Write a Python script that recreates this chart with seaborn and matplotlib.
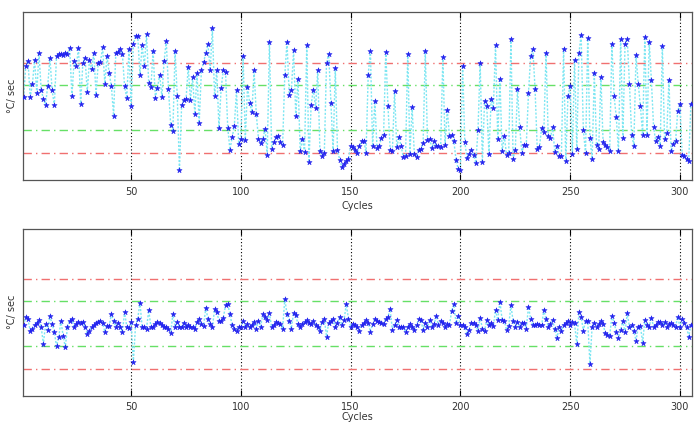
import numpy as np
import pandas as pd
import matplotlib
matplotlib.use("Agg")
import matplotlib.pyplot as plt
import seaborn as sns

# ---- data ----
top_values = [
    0.71, 2.78, 3.11, 0.73, 1.56, 3.22, 1.0, 3.67, 1.22, 0.6,
    0.22, 1.49, 3.33, 1.16, 0.18, 3.44, 3.56, 3.56, 3.49, 3.67,
    3.6, 4.0, 0.82, 3.11, 2.78, 4.0, 0.29, 3.0, 3.33, 1.07,
    3.18, 2.56, 3.67, 0.89, 3.0, 3.04, 4.04, 1.62, 3.44, 2.29,
    1.44, -0.51, 3.67, 3.71, 3.93, 3.6, 1.44, 0.64, 3.89, 0.11,
    4.22, 4.78, 4.78, 2.22, 4.16, 2.82, 4.89, 1.67, 1.4, 3.78,
    0.67, 1.33, 2.22, 0.73, 3.11, 4.44, 1.27, -1.11, -1.56, 3.78,
    0.82, -4.16, 0.22, 0.51, 0.56, 2.73, 0.51, 2.04, -0.4, 2.29,
    -1.0, 2.49, 3.04, 3.67, 4.22, 2.51, 5.29, 0.82, 2.49, -1.33,
    1.33, 2.49, 2.38, -1.33, -2.78, -1.96, -1.18, 1.16, -2.4, -2.07,
    3.44, -2.11, 1.4, 0.33, -0.29, 2.51, -0.4, -2.07, -2.33, -2.07,
    -1.38, -3.11, 4.4, -2.71, -2.27, -1.96, -1.89, -2.27, -2.44, 2.18,
    4.4, 0.89, 1.18, 3.84, -0.51, 1.93, -2.89, -2.07, -2.93, 4.16,
    -3.6, 0.22, 1.22, 0.0, 2.49, -2.89, -3.18, -3.0, 3.0, 3.6,
    0.33, -2.89, 2.64, -2.82, -3.44, -3.93, -3.71, -3.56, -3.38, -2.56,
    -2.62, -2.78, -3.0, -2.51, -2.22, -2.18, -3.0, 2.22, 3.78, -2.56,
    0.44, -2.67, -2.56, -2.0, -1.78, 3.71, 0.11, -2.78, -2.89, 1.11,
    -2.62, -1.96, -2.56, -3.29, -3.22, 3.6, -3.04, 0.04, -3.07, -3.29,
    -2.78, -2.73, -2.33, 3.78, -2.16, -2.07, -2.67, -2.22, -2.56, -2.56,
    -2.62, 3.38, -2.44, -0.11, -1.89, -1.78, -2.22, -3.44, -4.07, -4.16,
    2.82, -2.29, -3.33, -3.04, -2.78, -3.11, -3.67, -1.49, 3.0, -3.6,
    0.44, 0.11, -3.04, 0.56, 0.0, 4.18, -2.07, 1.93, -2.89, -1.89,
    -3.11, -3.0, 4.6, -3.4, -2.78, 1.27, -1.29, -3.0, -2.44, -2.49,
    0.96, 3.44, 3.93, 1.27, -2.73, -2.62, -1.33, -1.62, 3.67, -1.89,
    -2.0, -1.27, -2.96, -2.56, -3.22, -3.18, 3.93, -3.56, 0.82, 1.44,
    -3.04, 3.22, -2.73, 3.67, 4.84, -1.49, -3.0, 4.62, -2.0, -3.4,
    2.29, -2.44, -2.73, 2.04, -2.29, -2.44, -2.6, -2.89, 4.27, 0.78,
    -0.6, -2.89, 4.6, -2.0, 4.27, 4.6, 1.62, -1.78, -2.51, 3.49,
    1.62, 0.11, -1.78, 4.71, -1.78, 4.4, 1.84, -1.29, -2.22, -1.96,
    -2.51, 4.11, -2.07, -1.67, 1.84, -2.89, -2.4, -2.22, -0.22, 0.29,
    -3.11, -3.22, -3.38, -3.56, 0.27,
]

bottom_values = [
    -0.09, 0.46, 0.31, -0.46, -0.35, -0.09, 0.09, 0.24, -0.18, -1.34,
    -0.02, -0.4, 0.53, -0.02, -0.53, -1.49, -0.9, 0.2, -0.79, -1.56,
    -0.18, 0.2, 0.31, -0.18, -0.02, 0.13, 0.09, 0.13, -0.18, -0.64,
    -0.46, -0.24, -0.09, 0.04, 0.13, 0.2, 0.09, -0.53, -0.13, -0.13,
    0.66, 0.2, -0.18, 0.09, -0.18, -0.53, 0.79, -0.18, -0.26, 0.13,
    -2.55, -0.09, 0.35, 1.41, -0.18, -0.24, -0.31, 0.9, -0.18, -0.18,
    -0.02, 0.13, 0.04, -0.09, -0.18, -0.18, -0.31, -0.62, 0.64, -0.18,
    0.13, -0.2, -0.18, 0.09, -0.18, -0.09, -0.18, -0.24, -0.31, 0.13,
    0.35, -0.02, -0.13, 1.08, 0.31, -0.02, -0.24, 0.97, 0.79, 0.22,
    0.2, 0.42, 1.23, 1.32, 0.64, -0.09, -0.31, -0.46, -0.2, -0.18,
    0.2, -0.18, -0.02, -0.24, -0.09, 0.13, -0.31, 0.2, -0.18, 0.64,
    0.48, 0.26, 0.7, -0.24, -0.09, 0.13, 0.09, -0.02, -0.31, 1.67,
    0.64, 0.2, -0.31, 0.75, 0.57, -0.02, -0.18, -0.02, 0.13, 0.26,
    0.09, -0.02, 0.2, -0.09, -0.18, -0.46, 0.13, 0.35, -0.84, 0.09,
    0.2, 0.31, -0.24, 0.04, 0.48, -0.09, 0.26, 1.3, 0.35, -0.18,
    -0.02, -0.09, -0.24, -0.46, -0.09, 0.04, 0.26, 0.09, -0.53, -0.02,
    0.31, 0.2, 0.13, 0.09, -0.02, 0.35, 0.48, 0.97, -0.4, -0.09,
    0.26, -0.18, -0.24, -0.18, -0.53, -0.18, -0.02, -0.18, -0.4, -0.09,
    0.31, 0.26, -0.4, 0.09, -0.18, 0.26, -0.18, -0.02, 0.53, -0.09,
    0.2, 0.04, -0.18, -0.02, -0.09, 0.86, 1.3, 0.04, 0.53, -0.09,
    -0.09, -0.18, -0.68, -0.4, 0.09, 0.04, -0.09, -0.46, 0.42, -0.31,
    -0.46, 0.26, -0.09, 0.09, -0.13, 0.92, 0.26, 1.49, 0.26, 0.2,
    -0.4, -0.13, 1.23, 0.2, -0.24, 0.13, -0.18, 0.09, 0.09, -0.31,
    1.12, 0.35, -0.09, -0.09, -0.02, -0.09, -0.09, 0.92, 0.31, -0.18,
    -0.02, 0.26, -0.35, -0.97, -0.18, -0.46, -0.09, 0.04, 0.2, -0.09,
    0.13, 0.04, -1.34, 0.79, 0.48, -0.46, 0.2, 0.2, -2.66, -0.18,
    0.04, -0.18, -0.02, 0.2, -0.02, -0.62, -0.75, -0.79, 0.53, 0.09,
    -0.53, -0.97, -0.4, 0.2, -0.57, 0.7, -0.18, -0.09, -0.46, -1.12,
    -0.24, -0.13, -1.27, 0.26, -0.09, -0.18, 0.42, -0.18, -0.09, 0.13,
    0.13, -0.09, 0.13, -0.18, -0.02, 0.04, -0.09, -0.18, 0.46, -0.18,
    0.31, 0.04, -0.18, -0.84, -0.09,
]

red_limits = [-3.0, 3.0]
green_limits = [-1.5, 1.5]
xticks = [50, 100, 150, 200, 250, 300]
xlabel = "Cycles"
ylabel = "°C/ sec"

# ---- style ----
sns.set_style("white")
plt.rcParams["font.family"] = ["Liberation Sans Narrow", "DejaVu Sans"]

fig = plt.figure(figsize=(6.97, 4.26), dpi=100)
ax_top = fig.add_axes([22.5 / 697, 1 - 180 / 426, (692 - 22.5) / 697, 167.5 / 426])
ax_bot = fig.add_axes([22.5 / 697, 1 - 396 / 426, (692 - 22.5) / 697, 167.5 / 426])

for ax, vals, tpad, lpad in [(ax_top, top_values, 5, 3), (ax_bot, bottom_values, 4, 0.5)]:
    df = pd.DataFrame({"cycle": np.arange(1, len(vals) + 1), "value": vals})
    for xt in xticks:
        ax.axvline(xt, color="black", linestyle=(0, (1, 2)), linewidth=0.8, zorder=1)
    for r in red_limits:
        ax.axhline(r, color="#f07070", linestyle=(0, (6, 3, 1, 3)), linewidth=1.0, zorder=1)
    for g in green_limits:
        ax.axhline(g, color="#66e066", linestyle=(0, (6, 3, 1, 3)), linewidth=1.0, zorder=1)
    sns.lineplot(data=df, x="cycle", y="value", ax=ax, color="#7de6f2",
                 linestyle=(0, (1.5, 1.2)), linewidth=1.0, zorder=2)
    sns.scatterplot(data=df, x="cycle", y="value", ax=ax, color="#2222ee",
                    marker="*", s=15, edgecolor="#2222ee", linewidth=0.4, zorder=3)
    ax.set_xlim(0.5, 305.5)
    ax.set_ylim(-4.8, 6.35)
    ax.set_xticks(xticks)
    ax.set_xticklabels([str(t) for t in xticks], fontsize=7, color="#333333")
    ax.set_yticks([])
    ax.tick_params(axis="x", direction="in", top=True, bottom=True, length=4,
                   width=0.8, color="black", pad=tpad)
    ax.set_xlabel(xlabel, fontsize=7, color="#333333", labelpad=lpad)
    ax.set_ylabel(ylabel, fontsize=7, color="#333333", labelpad=4)
    for sp in ax.spines.values():
        sp.set_visible(True)
        sp.set_color("#555555")
        sp.set_linewidth(0.9)

fig.savefig("out.png", dpi=100)
